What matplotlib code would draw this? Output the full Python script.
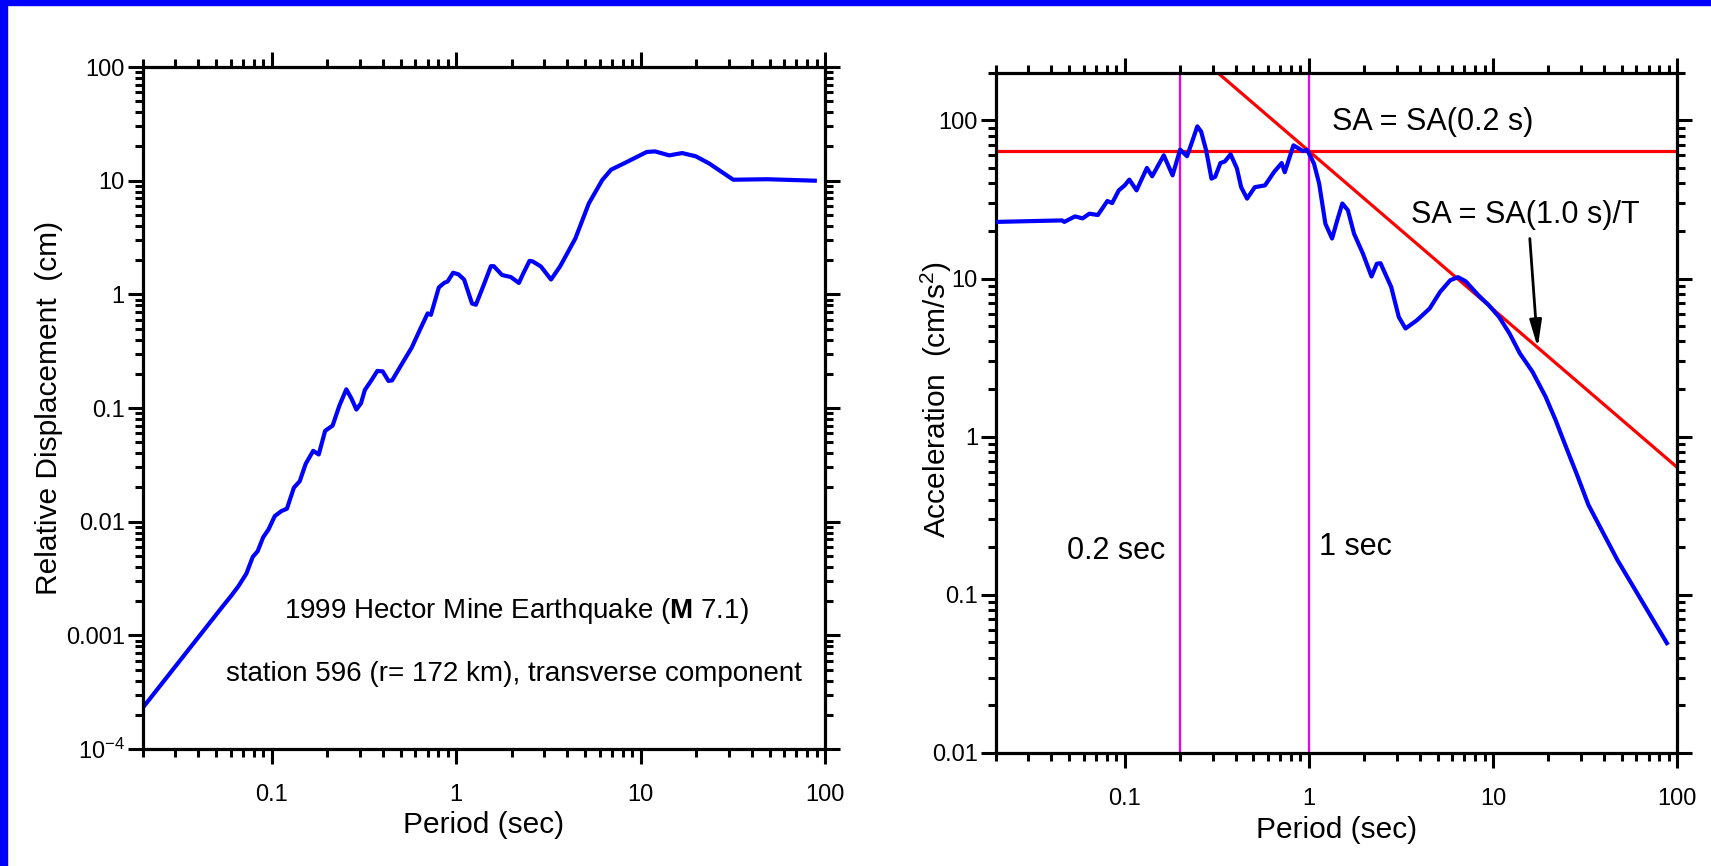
import matplotlib
matplotlib.use("Agg")
import matplotlib.pyplot as plt
from matplotlib.patches import Rectangle
from matplotlib.ticker import LogLocator, FixedLocator, NullFormatter

plt.rcParams.update({
    "font.family": ["Liberation Sans", "DejaVu Sans"],
    "mathtext.fontset": "custom",
    "mathtext.rm": "Liberation Sans",
    "mathtext.it": "Liberation Sans:italic",
    "mathtext.bf": "Liberation Sans:bold",
})

# --- relative displacement (left panel) ---
sd_period = [0.02, 0.054, 0.06, 0.066, 0.073, 0.079, 0.084, 0.09, 0.096, 0.104,
             0.113, 0.121, 0.132, 0.142, 0.153, 0.168, 0.18, 0.195, 0.214, 0.233,
             0.254, 0.271, 0.288, 0.305, 0.32, 0.348, 0.374, 0.40, 0.43, 0.45,
             0.514, 0.574, 0.641, 0.701, 0.73, 0.806, 0.861, 0.9, 0.963, 1.03,
             1.105, 1.22, 1.28, 1.42, 1.544, 1.6, 1.774, 1.98, 2.19, 2.3,
             2.5, 2.6, 2.88, 3.27, 3.66, 4.43, 5.24, 6.19, 6.92, 8.42,
             10.8, 12.0, 14.3, 16.8, 19.9, 23.5, 31.8, 48.6, 88.0]
sd_cm = [2.3e-4, 1.78e-3, 2.2e-3, 2.7e-3, 3.5e-3, 4.9e-3, 5.5e-3, 7.3e-3, 8.5e-3, 0.0112,
         0.0124, 0.013, 0.0199, 0.0227, 0.0323, 0.042, 0.039, 0.063, 0.07, 0.105,
         0.146, 0.121, 0.097, 0.11, 0.144, 0.176, 0.212, 0.21, 0.173, 0.175,
         0.252, 0.339, 0.5, 0.68, 0.66, 1.15, 1.26, 1.3, 1.55, 1.5,
         1.35, 0.83, 0.81, 1.24, 1.77, 1.77, 1.48, 1.42, 1.26, 1.5,
         1.97, 1.95, 1.76, 1.35, 1.76, 3.1, 6.3, 10.1, 12.5, 14.6,
         17.9, 18.1, 16.7, 17.5, 16.4, 14.2, 10.2, 10.3, 10.0]

# --- pseudo spectral acceleration (right panel) ---
sa_period = [0.02, 0.0457, 0.047, 0.0537, 0.0591, 0.0643, 0.0715, 0.0805, 0.0855, 0.0929,
             0.1, 0.106, 0.116, 0.132, 0.141, 0.163, 0.182, 0.2, 0.218, 0.232,
             0.248, 0.26, 0.277, 0.296, 0.31, 0.331, 0.35, 0.376, 0.407, 0.429,
             0.462, 0.509, 0.578, 0.647, 0.712, 0.74, 0.825, 0.87, 0.927, 0.98,
             1.067, 1.138, 1.23, 1.337, 1.426, 1.52, 1.63, 1.76, 1.965, 2.19,
             2.34, 2.45, 2.8, 3.08, 3.35, 3.86, 4.53, 5.16, 5.86, 6.46,
             7.11, 8.34, 9.49, 10.8, 12.3, 14.0, 16.4, 19.3, 21.9, 24.9,
             28.5, 33.0, 47.4, 88.0]
sa_cms2 = [22.8, 23.3, 22.8, 24.7, 24.0, 25.7, 25.2, 30.9, 30.0, 36.1,
           38.8, 42.2, 36.1, 50.0, 44.3, 60.1, 44.9, 65.3, 59.3, 72.9,
           91.6, 85.0, 64.6, 42.8, 44.0, 53.7, 55.0, 61.0, 49.6, 37.8,
           32.0, 37.8, 38.8, 47.1, 53.7, 47.0, 69.5, 67.0, 64.0, 65.0,
           53.2, 39.8, 22.2, 17.9, 23.3, 29.8, 27.0, 19.2, 14.4, 10.3,
           12.4, 12.5, 8.85, 5.71, 4.83, 5.44, 6.46, 8.22, 9.75, 10.2,
           9.6, 7.83, 6.78, 5.71, 4.49, 3.36, 2.57, 1.79, 1.27, 0.863,
           0.58, 0.37, 0.166, 0.0495]

sa_02 = 64.0      # SA(0.2 s)
sa_10 = 64.0      # SA(1.0 s)
x_major = [0.1, 1, 10, 100]
x_labels = ["0.1", "1", "10", "100"]
sd_ticks = [1e-4, 1e-3, 1e-2, 1e-1, 1, 10, 100]
sd_labels = [r"10$^{-4}$", "0.001", "0.01", "0.1", "1", "10", "100"]
sa_ticks = [0.01, 0.1, 1, 10, 100]
sa_labels = ["0.01", "0.1", "1", "10", "100"]

BLUE, RED, MAG = "#0000ff", "#ff0000", "#ee00ee"


def style(ax, yticks, ylabels, ylim):
    ax.set_xscale("log"); ax.set_yscale("log")
    ax.set_xlim(0.02, 100); ax.set_ylim(*ylim)
    for s in ax.spines.values():
        s.set_linewidth(2.3)
    ax.xaxis.set_major_locator(FixedLocator(x_major))
    ax.set_xticklabels(x_labels, fontsize=17)
    ax.yaxis.set_major_locator(FixedLocator(yticks))
    ax.set_yticklabels(ylabels, fontsize=17)
    for a in (ax.xaxis, ax.yaxis):
        a.set_minor_locator(LogLocator(base=10, subs=range(2, 10), numticks=30))
        a.set_minor_formatter(NullFormatter())
    ax.tick_params(which="both", direction="out", top=True, right=True, width=2.2,
                   colors="k")
    ax.tick_params(which="major", length=10.5)
    ax.tick_params(which="minor", length=5.5)
    ax.tick_params(axis="x", which="major", pad=15)
    ax.tick_params(axis="y", which="major", pad=2.5)


fig = plt.figure(figsize=(17.11, 8.66), dpi=100)
fig.add_artist(Rectangle((0, 1 - 5 / 866), 1, 5 / 866, transform=fig.transFigure,
                         color=BLUE, zorder=10))
fig.add_artist(Rectangle((0, 0), 7 / 1711, 1, transform=fig.transFigure,
                         color=BLUE, zorder=10))

ax1 = fig.add_axes([0.0834, 0.1351, 0.3988, 0.7875])
ax2 = fig.add_axes([0.5821, 0.1305, 0.3981, 0.7855])

# left: relative displacement
ax1.plot(sd_period, sd_cm, color=BLUE, lw=3.0, solid_joinstyle="round")
style(ax1, sd_ticks, sd_labels, (1e-4, 100))
ax1.set_xlabel("Period (sec)", fontsize=21.5, va="center")
ax1.xaxis.set_label_coords(0.5, -0.112)
ax1.set_ylabel("Relative Displacement  (cm)", fontsize=21.5, va="center")
ax1.yaxis.set_label_coords(-0.137, 0.5)
ax1.text(0.547, 0.203, r"1999 Hector Mine Earthquake ($\mathbf{M}$ 7.1)",
         transform=ax1.transAxes, ha="center", va="center", fontsize=20)
ax1.text(0.544, 0.11, "station 596 (r= 172 km), transverse component",
         transform=ax1.transAxes, ha="center", va="center", fontsize=20)

# right: acceleration with reference lines
ax2.axvline(0.2, color=MAG, lw=1.6, zorder=1)
ax2.axvline(1.0, color=MAG, lw=1.6, zorder=1)
ax2.axhline(sa_02, color=RED, lw=2.3, zorder=2)
ax2.plot([0.02, 100], [sa_10 / 0.02, sa_10 / 100], color=RED, lw=2.3, zorder=2)
ax2.plot(sa_period, sa_cms2, color=BLUE, lw=3.0, zorder=3, solid_joinstyle="round")
style(ax2, sa_ticks, sa_labels, (0.01, 200))
ax2.set_xlabel("Period (sec)", fontsize=21.5, va="center")
ax2.xaxis.set_label_coords(0.5, -0.113)
ax2.set_ylabel(r"Acceleration  (cm/s$^2$)", fontsize=21.5, va="center")
ax2.yaxis.set_label_coords(-0.0876, 0.52)

ax2.text(0.6405, 0.928, "SA = SA(0.2 s)", transform=ax2.transAxes,
         ha="center", va="center", fontsize=22)
ax2.text(0.777, 0.791, "SA = SA(1.0 s)/T", transform=ax2.transAxes,
         ha="center", va="center", fontsize=22)
ax2.text(0.1766, 0.297, "0.2 sec", transform=ax2.transAxes,
         ha="center", va="center", fontsize=22)
ax2.text(0.527, 0.303, "1 sec", transform=ax2.transAxes,
         ha="center", va="center", fontsize=22)
ax2.annotate("", xy=(17.5, 3.66), xytext=(15.85, 17.9),
             arrowprops=dict(arrowstyle="-|>,head_length=0.9,head_width=0.2",
                             color="k", lw=2, mutation_scale=18, shrinkA=0, shrinkB=0))

fig.savefig("out.png", dpi=100, facecolor="white")
